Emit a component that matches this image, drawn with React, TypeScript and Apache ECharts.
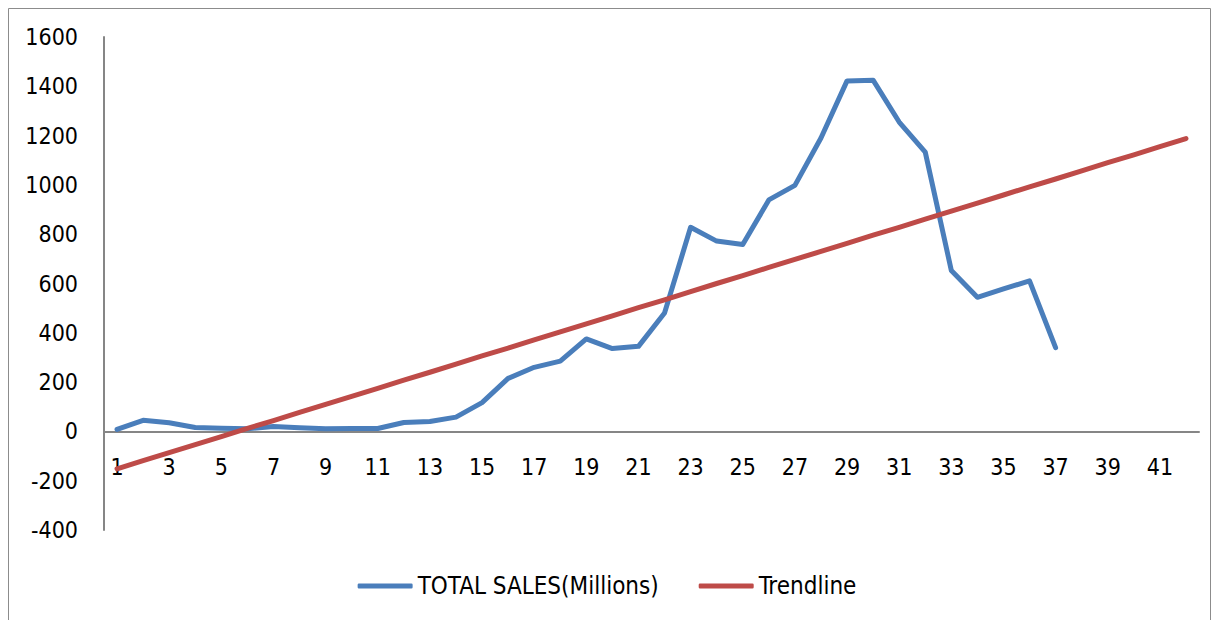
import React, { useEffect, useRef } from "react";
import * as echarts from "echarts";

const categories: string[] = Array.from({ length: 42 }, (_, i) => String(i + 1));

const totalSales: number[] = [
  8, 45, 35, 16, 13, 11, 20, 15, 11, 12, 12, 36, 40, 58, 117, 215, 260, 285, 375, 336,
  345, 480, 828, 772, 758, 939, 998, 1190, 1422, 1425, 1255, 1133, 653, 544, 578, 611, 340,
];

const trendline: number[] = [
  -152, -119, -86, -54, -21, 12, 44, 77, 110, 142, 175, 208, 240, 273, 306, 338, 371, 404,
  436, 469, 502, 534, 567, 600, 632, 665, 698, 730, 763, 796, 828, 861, 894, 926, 959, 992,
  1024, 1057, 1090, 1122, 1155, 1188,
];

const yTicks = { min: -400, max: 1600, interval: 200 };

const FONT = "'Liberation Sans Narrow', 'DejaVu Sans Condensed', sans-serif";

export default function App() {
  const ref = useRef<HTMLDivElement>(null);
  useEffect(() => {
    if (!ref.current) return;
    const chart = echarts.init(ref.current, undefined, { renderer: "svg" });
    const gridTop = 37;
    const gridBottom = 90;
    const plotH = 620 - gridTop - gridBottom;
    const zeroOffset = -(plotH * (0 - yTicks.min)) / (yTicks.max - yTicks.min);
    chart.setOption({
      animation: false,
      backgroundColor: "#ffffff",
      textStyle: { fontFamily: FONT },
      graphic: [
        {
          type: "rect",
          shape: { x: 8.5, y: 8.5, width: 1202, height: 640 },
          style: { fill: "none", stroke: "#8c8c8c", lineWidth: 1 },
          silent: true,
        },
      ],
      grid: { left: 104, right: 15, top: gridTop, bottom: gridBottom, containLabel: false },
      legend: {
        bottom: 17,
        left: "center",
        itemWidth: 55,
        itemHeight: 5,
        itemGap: 40,
        icon: "roundRect",
        textStyle: { fontFamily: FONT, fontSize: 24, color: "#000" },
        data: ["TOTAL SALES(Millions)", "Trendline"],
      },
      xAxis: {
        type: "category",
        data: categories,
        boundaryGap: true,
        position: "bottom",
        offset: zeroOffset,
        axisLine: { onZero: false, lineStyle: { color: "#868686", width: 2 } },
        axisTick: { show: false },
        axisLabel: { interval: 1, color: "#000", fontSize: 23, fontFamily: FONT, margin: 24 },
        splitLine: { show: false },
      },
      yAxis: {
        type: "value",
        min: yTicks.min,
        max: yTicks.max,
        interval: yTicks.interval,
        axisLine: { show: true, lineStyle: { color: "#868686", width: 2 } },
        axisTick: { show: false },
        axisLabel: {
          color: "#000",
          fontSize: 23,
          fontFamily: FONT,
          margin: 26,
          formatter: (v: number) => String(v),
        },
        splitLine: { show: false },
      },
      series: [
        {
          name: "TOTAL SALES(Millions)",
          type: "line",
          data: totalSales,
          showSymbol: false,
          symbol: "none",
          lineStyle: { color: "#4A7EBB", width: 5, cap: "round", join: "round" },
          itemStyle: { color: "#4A7EBB" },
        },
        {
          name: "Trendline",
          type: "line",
          data: trendline,
          showSymbol: false,
          symbol: "none",
          lineStyle: { color: "#BE4B48", width: 5, cap: "round", join: "round" },
          itemStyle: { color: "#BE4B48" },
        },
      ],
    });
    return () => chart.dispose();
  }, []);
  return (
    <div
      ref={ref}
      style={{ position: "fixed", left: 0, top: 0, width: 1214, height: 620 }}
    />
  );
}
